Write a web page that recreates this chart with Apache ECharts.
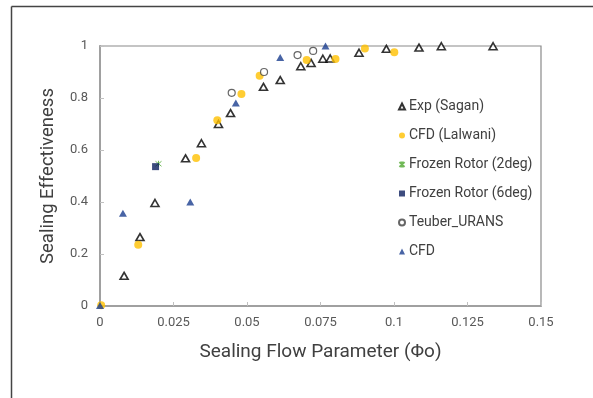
<!DOCTYPE html>
<html>
<head>
<meta charset="utf-8">
<script src="https://cdn.jsdelivr.net/npm/echarts@6/dist/echarts.min.js"></script>
<style>
html,body{margin:0;padding:0;background:#fff;}
#c{width:593px;height:398px;}
</style>
</head>
<body>
<div id="c"></div>
<script>
const seriesNames = ['Exp (Sagan)', 'CFD (Lalwani)', 'Frozen Rotor (2deg)', 'Frozen Rotor (6deg)', 'Teuber_URANS', 'CFD'];
const xTicks = [0, 0.025, 0.05, 0.075, 0.1, 0.125, 0.15];
const yTicks = [0, 0.2, 0.4, 0.6, 0.8, 1];

const expSagan = [[0.0082,0.116],[0.0136,0.265],[0.0187,0.396],[0.0291,0.568],[0.0345,0.626],[0.0403,0.700],[0.0444,0.742],[0.0556,0.843],[0.0613,0.869],[0.0683,0.922],[0.0718,0.935],[0.0758,0.951],[0.0783,0.952],[0.0881,0.974],[0.0974,0.989],[0.1085,0.994],[0.1161,0.999],[0.1337,0.999]];
const cfdLalwani = [[0.0004,0.003],[0.0130,0.236],[0.0327,0.569],[0.0399,0.714],[0.0481,0.815],[0.0543,0.886],[0.0703,0.946],[0.0801,0.950],[0.0901,0.990],[0.1001,0.976]];
const frozen2 = [[0.0199,0.547]];
const frozen6 = [[0.0189,0.536]];
const teuber = [[0.0448,0.820],[0.0558,0.900],[0.0672,0.965],[0.0725,0.981]];
const cfd = [[0.0000,0.002],[0.0078,0.357],[0.0307,0.400],[0.0462,0.781],[0.0613,0.956],[0.0767,1.000]];

const chart = echarts.init(document.getElementById('c'), null, {renderer:'canvas'});
const font = 'Roboto, "Liberation Sans", sans-serif';
const asterisk = 'path://M0,0 L10,10 M10,0 L0,10 M5,-1 L5,11';

chart.setOption({
  animation:false,
  textStyle:{fontFamily:font},
  graphic:[
    {type:'line', shape:{x1:11.5,y1:6.5,x2:593,y2:6.5}, style:{stroke:'#444',lineWidth:1.5}, z:10},
    {type:'line', shape:{x1:11.5,y1:6.5,x2:11.5,y2:398}, style:{stroke:'#444',lineWidth:1.5}, z:10}
  ],
  grid:{left:100,right:52,top:46,bottom:92,show:true,borderColor:'#8a8a8a',borderWidth:1.2,backgroundColor:'transparent'},
  legend:{
    orient:'vertical', left:393, top:93, itemGap:12, itemWidth:6, itemHeight:6,
    textStyle:{fontSize:14,color:'#404040',fontFamily:font,lineHeight:17,padding:[0,0,0,-1]},
    data:seriesNames
  },
  xAxis:{
    type:'value', min:0, max:0.15, interval:0.025,
    name:'Sealing Flow Parameter (Φo)', nameLocation:'middle', nameGap:37,
    nameTextStyle:{fontSize:19,color:'#404040',fontFamily:font},
    axisLine:{show:true,lineStyle:{color:'#a0a0a0',width:2}},
    axisTick:{show:true,inside:true,length:4,lineStyle:{color:'#c0c0c0'}},
    splitLine:{show:false},
    axisLabel:{fontSize:13,color:'#595959',margin:10,formatter:v=>{const t=xTicks.find(k=>Math.abs(k-v)<1e-9);return t===undefined?'':String(t);}}
  },
  yAxis:{
    type:'value', min:0, max:1, interval:0.2,
    name:'Sealing Effectiveness', nameLocation:'middle', nameGap:42,
    nameTextStyle:{fontSize:18.5,color:'#404040',fontFamily:font},
    axisLine:{show:true,lineStyle:{color:'#a0a0a0',width:2}},
    axisTick:{show:true,inside:true,length:4,lineStyle:{color:'#c0c0c0'}},
    splitLine:{show:false},
    axisLabel:{fontSize:13,color:'#595959',margin:12,formatter:v=>{const t=yTicks.find(k=>Math.abs(k-v)<1e-9);return t===undefined?'':String(t);}}
  },
  series:[
    {name:seriesNames[0], type:'scatter', data:expSagan, symbol:'triangle', symbolSize:[8,7],
     itemStyle:{color:'#ffffff',borderColor:'#000000',borderWidth:1.6}},
    {name:seriesNames[1], type:'scatter', data:cfdLalwani, symbol:'circle', symbolSize:8,
     itemStyle:{color:'#ffc000'}},
    {name:seriesNames[2], type:'scatter', data:frozen2, symbol:asterisk, symbolSize:6,
     itemStyle:{color:'rgba(0,0,0,0)',borderColor:'#4ea72e',borderWidth:1}},
    {name:seriesNames[3], type:'scatter', data:frozen6, symbol:'rect', symbolSize:7,
     itemStyle:{color:'#0c1f5e'}},
    {name:seriesNames[4], type:'scatter', data:teuber, symbol:'circle', symbolSize:7,
     itemStyle:{color:'#ffffff',borderColor:'#404040',borderWidth:1.2}},
    {name:seriesNames[5], type:'scatter', data:cfd, symbol:'triangle', symbolSize:[8,7],
     itemStyle:{color:'#1a3d8f'}}
  ]
});
</script>
</body>
</html>
